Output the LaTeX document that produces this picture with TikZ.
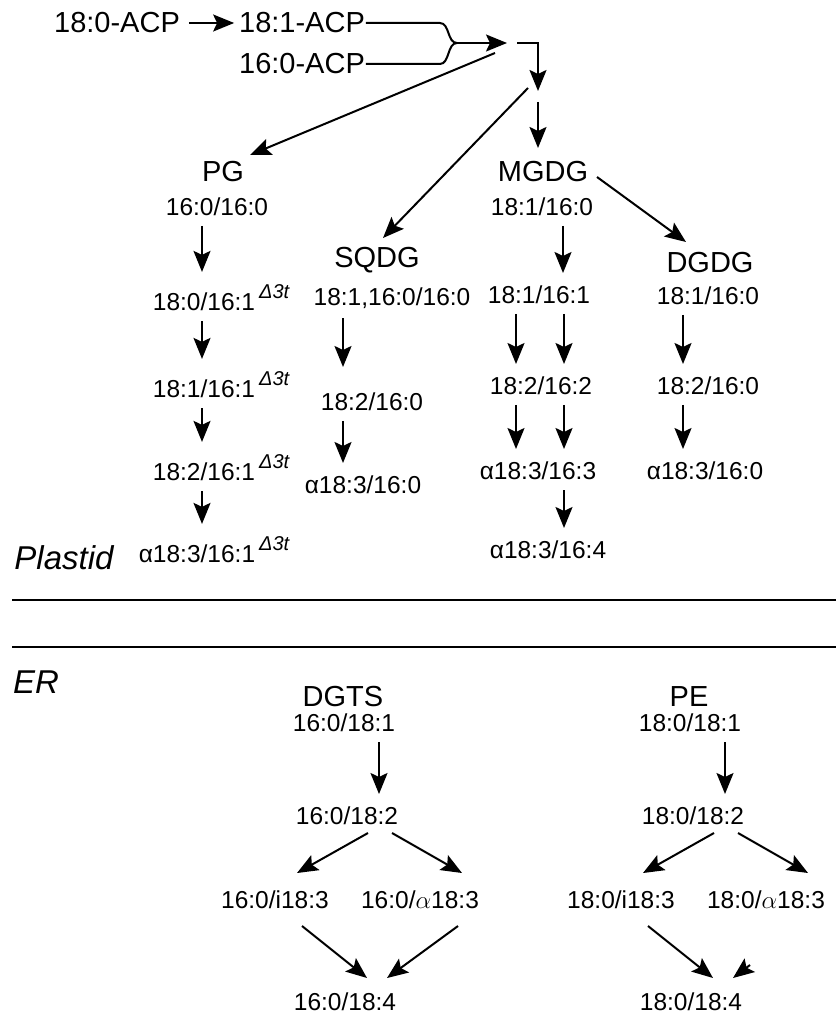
\documentclass[tikz,border=0pt]{standalone}
\usepackage{fontspec}
\setmainfont{Liberation Sans}
\usetikzlibrary{arrows.meta}
\newcommand{\dtrans}{\rlap{\kern4pt\raisebox{12pt}{\fontsize{20}{20}\selectfont\itshape Δ3t}}}

\begin{document}
\begin{tikzpicture}[x=1pt, y=-1pt, line width=2pt,
  lip/.style={inner sep=0pt, font=\fontsize{24.5}{24.5}\selectfont},
  head/.style={inner sep=0pt, font=\fontsize{29}{29}\selectfont},
  region/.style={inner sep=0pt, font=\fontsize{33}{33}\selectfont\itshape},
  arr/.style={-{Stealth[length=21pt,width=17pt,inset=4pt]}},
  dn/.style={arr, shorten <=9pt, shorten >=12pt}]
\useasboundingbox (0,0) rectangle (836,1016);

% acyl-ACP pool
\node[head] (acp0) at (117,23) {18:0-ACP};
\node[head] (acp1) at (302,23) {18:1-ACP};
\node[head] (acp2) at (302,64) {16:0-ACP};
\coordinate (merge) at (457,43);
\coordinate (pool) at (512,43);
\draw[arr, shorten <=8pt, shorten >=4pt] (acp0) -- (acp1);
\draw (acp1.east) -- ++(74,0) .. controls +(10,0) and +(-10,0) .. (merge);
\draw (acp2.east) -- ++(74,0) .. controls +(10,0) and +(-10,0) .. (merge);
\draw[arr] (merge) -- ([xshift=-5]pool);

% plastid
\node[head] (pg) at (223,172) {PG};
\node[lip] (pg0) at (217,207) {16:0/16:0};
\node[lip] (pg1) at (204,298) {18:0/16:1\dtrans};
\node[lip] (pg2) at (204,385) {18:1/16:1\dtrans};
\node[lip] (pg3) at (204,468) {18:2/16:1\dtrans};
\node[lip] (pg4) at (197,550) {α18:3/16:1\dtrans};

\node[head] (sq) at (377,260) {SQDG};
\node[lip] (sq0) at (392,298) {18:1,16:0/16:0};
\node[lip] (sq1) at (372,402) {18:2/16:0};
\node[lip] (sq2) at (363,485) {α18:3/16:0};

\node[head] (mg) at (543,172) {MGDG};
\node[lip] (mg0) at (542,207) {18:1/16:0};
\node[lip] (mg1) at (539,295) {18:1/16:1};
\node[lip] (mg2) at (541,386) {18:2/16:2};
\node[lip] (mg3) at (538,471) {α18:3/16:3};
\node[lip] (mg4) at (548,550) {α18:3/16:4};

\node[head] (dg) at (710,263) {DGDG};
\node[lip] (dg0) at (708,296) {18:1/16:0};
\node[lip] (dg1) at (708,386) {18:2/16:0};
\node[lip] (dg2) at (705,471) {α18:3/16:0};

\draw[arr] ([xshift=5]pool) -| ([shift={(26,48)}]pool);
\draw[arr] ([shift={(26,59)}]pool) -- ([shift={(-5,-24)}]mg.center);
\draw[arr] ([shift={(-17,10)}]pool) -- ([shift={(27,-17)}]pg.center);
\draw[arr] ([shift={(16,45)}]pool) -- ([shift={(6,-22)}]sq.center);
\draw[arr] ([shift={(54,5)}]mg.center) -- ([shift={(-24,-21)}]dg.center);

\draw[dn] ([xshift=-15]pg0.south) -- ([xshift=-2]pg1.north);
\draw[dn] ([xshift=-2]pg1.south) -- ([xshift=-2]pg2.north);
\draw[dn] ([xshift=-2]pg2.south) -- ([xshift=-2]pg3.north);
\draw[dn] ([xshift=-2]pg3.south) -- ([xshift=5]pg4.north);

\draw[dn, shorten >=25pt] ([xshift=-49]sq0.south) -- ([xshift=-29]sq1.north);
\draw[dn] ([xshift=-29]sq1.south) -- ([xshift=-20]sq2.north);

\draw[dn] ([xshift=21]mg0.south) -- ([xshift=24]mg1.north);
\draw[dn] ([xshift=-23]mg1.south) -- ([xshift=-25]mg2.north);
\draw[dn] ([xshift=25]mg1.south) -- ([xshift=23]mg2.north);
\draw[dn] ([xshift=-25]mg2.south) -- ([xshift=-22]mg3.north);
\draw[dn] ([xshift=23]mg2.south) -- ([xshift=26]mg3.north);
\draw[dn] ([xshift=26]mg3.south) -- ([xshift=16]mg4.north);

\draw[dn] ([xshift=-25]dg0.south) -- ([xshift=-25]dg1.north);
\draw[dn] ([xshift=-25]dg1.south) -- ([xshift=-22]dg2.north);

% compartments
\node[region] (plastid) at (64,558) {Plastid};
\node[region] (er) at (36,682) {ER};
\draw[line width=2.2pt] (12,600) -- (836,600);
\draw[line width=2.2pt] (12,647) -- (836,647);

% ER
\node[head] (dgts) at (343,697) {DGTS};
\node[lip] (dt0) at (344,723) {16:0/18:1};
\node[lip] (dt1) at (347,816) {16:0/18:2};
\node[lip] (dt2) at (275,900) {16:0/i18:3};
\node[lip] (dt3) at (420,900) {16:0/$\alpha$18:3};
\node[lip] (dt4) at (345,1002) {16:0/18:4};

\node[head] (pe) at (689,697) {PE};
\node[lip] (pe0) at (690,723) {18:0/18:1};
\node[lip] (pe1) at (693,816) {18:0/18:2};
\node[lip] (pe2) at (621,900) {18:0/i18:3};
\node[lip] (pe3) at (766,900) {18:0/$\alpha$18:3};
\node[lip] (pe4) at (691,1002) {18:0/18:4};

\draw[dn] ([xshift=35]dt0.south) -- ([xshift=32]dt1.north);
\draw[arr] ([shift={(21,17)}]dt1.center) -- ([shift={(22,-27)}]dt2.center);
\draw[arr] ([shift={(45,17)}]dt1.center) -- ([shift={(42,-27)}]dt3.center);
\draw[arr] ([shift={(27,26)}]dt2.center) -- ([shift={(22,-24)}]dt4.center);
\draw[arr] ([shift={(38,26)}]dt3.center) -- ([shift={(42,-24)}]dt4.center);

\draw[dn] ([xshift=35]pe0.south) -- ([xshift=32]pe1.north);
\draw[arr] ([shift={(21,17)}]pe1.center) -- ([shift={(22,-27)}]pe2.center);
\draw[arr] ([shift={(45,17)}]pe1.center) -- ([shift={(42,-27)}]pe3.center);
\draw[arr] ([shift={(27,26)}]pe2.center) -- ([shift={(22,-24)}]pe4.center);
\draw[arr] ([shift={(59,-37)}]pe4.center) -- ([shift={(42,-24)}]pe4.center);
\end{tikzpicture}
\end{document}
